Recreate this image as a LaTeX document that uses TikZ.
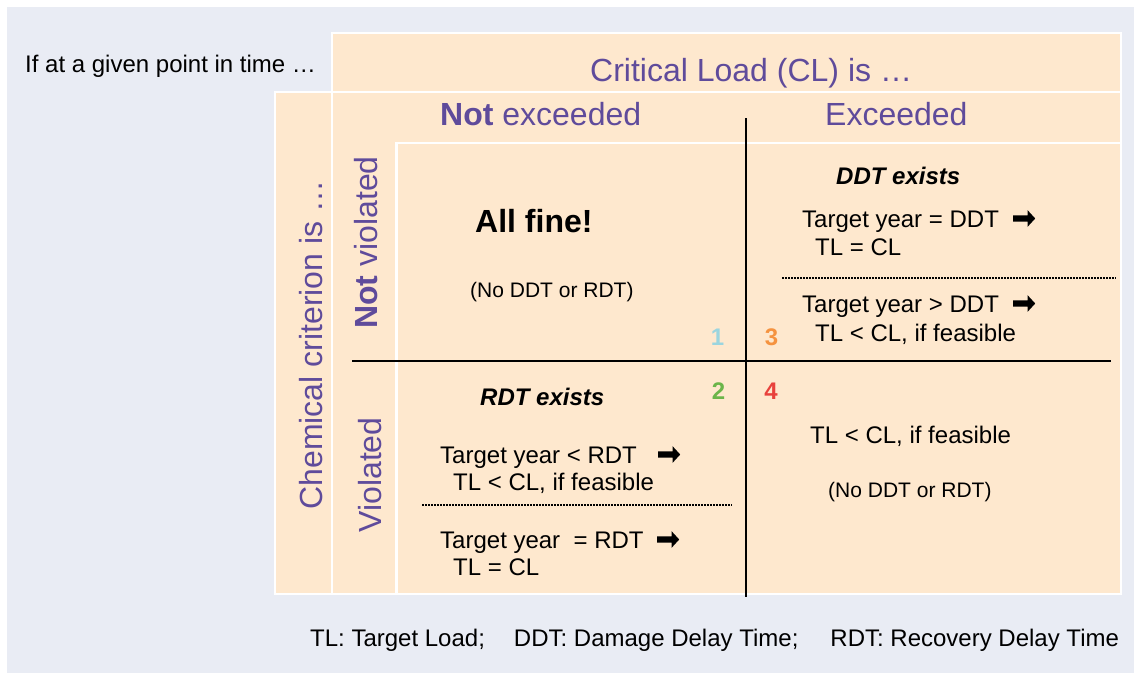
\documentclass[tikz,border=0pt]{standalone}
\usepackage{fontspec}
\setmainfont{Liberation Sans}
\usetikzlibrary{shapes.arrows}
\definecolor{bgc}{HTML}{E9ECF4}
\definecolor{peach}{HTML}{FEE8CE}
\definecolor{purp}{HTML}{5F4B9B}
\definecolor{numA}{HTML}{9BD5DF}
\definecolor{numB}{HTML}{6BB54A}
\definecolor{numC}{HTML}{F59340}
\definecolor{numD}{HTML}{E8413C}
\begin{document}
\begin{tikzpicture}[x=1pt,y=-1pt,
  cellbox/.style={fill=peach,draw=white,line width=2.5pt},
  body/.style={font=\fontsize{24}{28}\selectfont,inner sep=0pt,anchor=base west},
  small/.style={font=\fontsize{21}{25}\selectfont,inner sep=0pt,anchor=base west},
  big/.style={font=\fontsize{32}{38}\selectfont,text=purp,inner sep=0pt,anchor=base west},
  bigrot/.style={font=\fontsize{32}{38}\selectfont,text=purp,inner sep=0pt,anchor=base,rotate=90},
  num/.style={font=\fontsize{24}{28}\selectfont\bfseries,inner sep=0pt,anchor=base},
  arr/.style={single arrow,fill=black,draw=none,anchor=west,
    inner xsep=6.5pt,inner ysep=3pt,text width=0pt,
    minimum height=22pt,single arrow head extend=5.2pt,single arrow tip angle=95},
  gridline/.style={line width=2.6pt,black},
  dotline/.style={line width=2pt,black,dash pattern=on 2pt off 1pt}]
\useasboundingbox (0,0) rectangle (1134,673);
\fill[white] (0,0) rectangle (1134,673);
\fill[bgc] (7,7) rectangle (1134,673);
% boxes
\draw[cellbox] (332,33) rectangle (1121,92);
\draw[cellbox] (332,92) rectangle (1121,594);
\draw[cellbox] (275,92) rectangle (332,594);
\draw[cellbox] (396.5,143) rectangle (1121,594);
% grid lines
\coordinate (vtop) at (746,118);
\coordinate (vbot) at (746,597);
\coordinate (hl) at (352,361);
\coordinate (hr) at (1111,361);
\draw[gridline] (vtop) -- (vbot);
\draw[gridline] (hl) -- (hr);
\coordinate (d1l) at (782,278);
\coordinate (d1r) at (1116,278);
\coordinate (d2l) at (422,505);
\coordinate (d2r) at (732,505);
\draw[dotline] (d1l) -- (d1r);
\draw[dotline] (d2l) -- (d2r);
% texts
\node[body] (intro) at (25,72) {If at a given point in time …};
\node[big] (cl) at (590,81) {Critical Load (CL) is …};
\node[big] (notexc) at (440,125) {\textbf{Not} exceeded};
\node[big] (exc) at (825,125) {Exceeded};
\node[bigrot] (chem) at (322,345) {Chemical criterion is …};
\node[bigrot] (notviol) at (377,242.5) {\textbf{Not} violated};
\node[bigrot] (viol) at (381,475) {Violated};
% cell 1
\node[font=\fontsize{32}{38}\selectfont\bfseries,inner sep=0pt,anchor=base west] (fine) at (475,232) {All fine!};
\node[small] (none1) at (470,297) {(No DDT or RDT)};
% cell 3
\node[body,font=\fontsize{24}{28}\selectfont\bfseries\itshape] (ddt) at (836,184) {DDT exists};
\node[body] (t3a) at (802,227) {Target year = DDT};
\node[arr] (a3a) at (1013,218.5) {};
\node[body] (t3b) at (815,255) {TL = CL};
\node[body] (t3c) at (802,312) {Target year > DDT};
\node[arr] (a3c) at (1013,303.5) {};
\node[body] (t3d) at (815,341.7) {TL < CL, if feasible};
% cell 2
\node[body,font=\fontsize{24}{28}\selectfont\bfseries\itshape] (rdt) at (480,405) {RDT exists};
\node[body] (t2a) at (440,463) {Target year < RDT};
\node[arr] (a2a) at (658,454.5) {};
\node[body] (t2b) at (453,490) {TL < CL, if feasible};
\node[body] (t2c) at (440,548) {Target year\ \ = RDT};
\node[arr] (a2c) at (657,539.5) {};
\node[body] (t2d) at (453,575) {TL = CL};
% cell 4
\node[body] (t4a) at (810,443) {TL < CL, if feasible};
\node[small] (none4) at (828,497) {(No DDT or RDT)};
% numbers
\node[num,text=numA] (n1) at (717.5,345.5) {1};
\node[num,text=numC] (n3) at (771.5,345.5) {3};
\node[num,text=numB] (n2) at (718.5,399) {2};
\node[num,text=numD] (n4) at (771,399) {4};
% footer
\node[body] (foot) at (310,646) {TL: Target Load;\hspace{29pt}DDT: Damage Delay Time;\hspace{32pt}RDT: Recovery Delay Time};
\end{tikzpicture}
\end{document}
